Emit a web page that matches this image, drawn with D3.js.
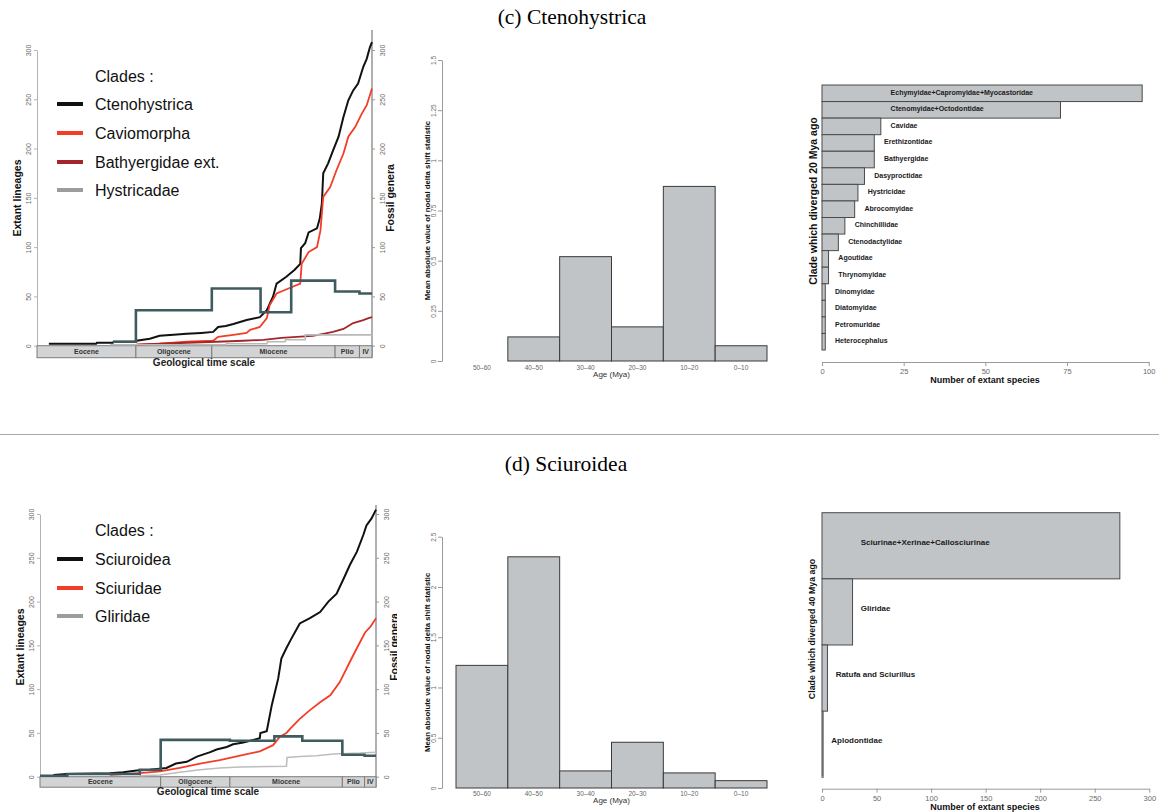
<!DOCTYPE html>
<html>
<head>
<meta charset="utf-8">
<script src="https://cdn.jsdelivr.net/npm/d3@7"></script>
<style>
  body { margin: 0; background: #fff; }
  svg { display: block; }
</style>
</head>
<body>
<svg id="fig" width="1159" height="812"></svg>
<script>
// ---------- Geological time scale (Mya) ----------
const epochNames  = ["Eocene", "Oligocene", "Miocene", "Plio", "IV"];
const epochStarts = [55.8, 33.9, 23.0, 5.3, 1.8];
const epochEnds   = [33.9, 23.0, 5.3, 1.8, 0];

// ---------- (c) Ctenohystrica: lineages through time [Mya, lineages] ----------
const ctenohystricaLTT = [[46.4,2],[39.6,2],[39.5,3],[37.2,3],[37.1,4],[33.9,4],[33.8,5],[31.9,7],[30.5,10],[28.5,11],[26.6,12],[24.5,13],[22.8,14],
  [22.1,19],[21.0,20],[19.9,22],[18.0,26],[16.1,29],[15.1,36],[14.2,50],[13.7,63],[12.3,70],[11.1,77],[10.3,83],
  [10.2,99],[9.6,104],[9.1,115],[7.9,119],[7.5,129],[7.2,144],[7.0,175],[6.3,185],[5.6,198],[4.8,212],[4.1,232],
  [3.4,249],[2.7,259],[2.0,266],[1.25,283],[0.76,291],[0.29,303],[0,308]];
const caviomorphaLTT = [[33.8,1],[30.5,2],[26.6,4],[22.8,5],[22.1,9],[19.9,11],[18.0,13],[17.5,16],[16.1,19],[15.1,28],
  [14.7,41],[13.7,53],[12.0,58],[10.3,63],[10.1,83],[9.1,95],[7.9,100],[7.4,117],[7.0,151],[6.0,161],[5.1,178],
  [4.1,195],[3.4,212],[2.4,222],[1.5,235],[0.76,244],[0,261]];
const bathyergidaeLTT = [[33.8,1],[30.5,2],[26.6,3],[22.3,4],[18.5,5],[15.6,6],[13.0,8],[10.8,9],[8.5,10],[7.0,12],
  [5.6,14],[4.1,17],[3.4,20],[2.7,23],[1.25,26],[0.5,28],[0,29]];
const hystricadaeLTT = [[37.6,1],[21.0,1],[20.9,2],[15.1,2],[15.0,4],[12.5,4],[12.4,6],[9.6,6],[9.55,11],[0,11]];

// fossil genera per stage
const ctenoStageStarts = [37.2, 33.9, 23.0, 16.0, 11.6, 5.3, 1.8];
const ctenoFossilGenera = [4, 36, 58, 34, 66, 55, 53];

// ---------- (d) Sciuroidea: lineages through time ----------
const sciuroideaLTT = [[50.8,2],[48.7,3],[41.9,4],[39.8,5],[37.7,7],[35.6,8],[33.0,10],[31.5,15],[29.8,17],[28.2,23],
  [26.1,28],[25.1,31],[23.5,34],[22.5,37],[20.9,39],[19.8,41],[18.3,44],[18.2,50],[17.2,52],[16.8,67],[16.4,82],
  [15.9,97],[15.4,112],[14.9,135],[14.1,147],[13.3,158],[12.0,175],[10.4,181],[8.8,188],[7.5,200],[6.2,209],
  [5.1,226],[4.1,242],[3.0,257],[2.0,276],[1.5,287],[0.7,295],[0,305]];
const sciuridaeLTT = [[41.9,2],[37.2,4],[34.0,6],[30.9,10],[27.7,15],[24.6,19],[21.4,24],[18.3,29],[16.2,36],[15.1,46],
  [14.1,50],[13.5,55],[12.0,66],[10.4,76],[8.8,85],[7.2,93],[5.7,108],[4.4,127],[3.0,147],[1.7,165],[0.9,171],[0,181]];
const gliridaeLTT = [[37.2,1],[34.0,2],[30.9,5],[27.7,8],[24.6,10],[21.4,11],[14.1,12],[14.0,22],[12.0,23],[9.4,24],
  [6.7,26],[2.5,27],[0,28]];

const sciuroStageStarts = [55.8, 48.6, 37.2, 33.9, 23.0, 16.0, 11.6, 5.3, 1.8];
const sciuroFossilGenera = [1, 3, 8, 42, 41, 46, 41, 25, 24];

// ---------- nodal delta shift statistic by age bin ----------
const ageBins = ["50\u201360", "40\u201350", "30\u201340", "20\u201330", "10\u201320", "0\u201310"];
const ctenoDeltaShift = [0, 0.12, 0.52, 0.17, 0.87, 0.076];
const sciuroDeltaShift = [1.22, 2.30, 0.17, 0.455, 0.15, 0.073];

// ---------- extant species per clade ----------
const ctenoClades = ["Echymyidae+Capromyidae+Myocastoridae", "Ctenomyidae+Octodontidae", "Cavidae", "Erethizontidae",
  "Bathyergidae", "Dasyproctidae", "Hystricidae", "Abrocomyidae", "Chinchillidae", "Ctenodactylidae", "Agoutidae",
  "Thrynomyidae", "Dinomyidae", "Diatomyidae", "Petromuridae", "Heterocephalus"];
const ctenoSpecies = [98, 73, 18, 16, 16, 13, 11, 10, 7, 5, 2, 2, 1, 1, 1, 1];
const sciuroClades = ["Sciurinae+Xerinae+Callosciurinae", "Gliridae", "Ratufa and Sciurillus", "Aplodontidae"];
const sciuroSpecies = [273, 28, 5, 1];

// ---------- drawing ----------
const SANS = '"Liberation Sans", Arial, Helvetica, sans-serif';
const SERIF = '"Liberation Serif", "Times New Roman", serif';
const svg = d3.select("#fig");
svg.append("rect").attr("width", 1159).attr("height", 812).attr("fill", "#fff");

svg.append("text").attr("x", 572).attr("y", 24).attr("text-anchor", "middle")
  .style("font-family", SERIF).style("font-size", "21.5px").text("(c) Ctenohystrica");
svg.append("text").attr("x", 566).attr("y", 471).attr("text-anchor", "middle")
  .style("font-family", SERIF).style("font-size", "21.5px").text("(d) Sciuroidea");
svg.append("line").attr("x1", 0).attr("x2", 1159).attr("y1", 434.5).attr("y2", 434.5)
  .attr("stroke", "#a9a9a9").attr("stroke-width", 1);

function styleAxis(ax, size, col) {
  ax.attr("font-family", SANS).attr("font-size", size);
  ax.select(".domain").attr("stroke", col || "#9a9a9a");
  ax.selectAll(".tick line").attr("stroke", col || "#9a9a9a");
  ax.selectAll(".tick text").attr("fill", "#6a6a6a");
}
function rotTicks(ax, dx) {
  ax.selectAll(".tick text").attr("x", null).attr("y", null).attr("dy", null)
    .attr("text-anchor", "middle").attr("transform", `translate(${dx},0) rotate(-90)`);
}
function rotLabel(g, x, y, txt, size, weight) {
  return g.append("text").attr("transform", `translate(${x},${y}) rotate(-90)`).attr("text-anchor", "middle")
    .style("font-family", SANS).style("font-size", size + "px").style("font-weight", weight || "bold")
    .attr("fill", "#111").text(txt);
}

function drawLTT(p) {
  const g = svg.append("g");
  const x = d3.scaleLinear().domain([-p.tMax, 0]).range([p.left, p.right]).clamp(true);
  const y = d3.scaleLinear().domain([0, 300]).range([p.base, p.y300]);
  const ticks = d3.range(0, 301, 50);

  // right frame edge
  g.append("line").attr("x1", p.right).attr("x2", p.right).attr("y1", p.top).attr("y2", p.base + p.barH)
    .attr("stroke", "#9c9c9c").attr("stroke-width", 1.6);

  const axL = g.append("g").attr("transform", `translate(${p.left},0)`)
    .call(d3.axisLeft(y).tickValues(ticks).tickSize(3).tickSizeOuter(0));
  styleAxis(axL, 7, "#b4b4b4"); rotTicks(axL, -6);
  const axR = g.append("g").attr("transform", `translate(${p.right},0)`)
    .call(d3.axisRight(y).tickValues(ticks).tickSize(3).tickSizeOuter(0));
  styleAxis(axR, 7); rotTicks(axR, 12.5); axR.select(".domain").remove();

  // geological time scale bar
  epochNames.forEach((name, i) => {
    const x0 = x(-epochStarts[i]), x1 = x(-epochEnds[i]);
    g.append("rect").attr("x", x0).attr("y", p.base).attr("width", x1 - x0).attr("height", p.barH)
      .attr("fill", "#d2d3d4").attr("stroke", "#7d7d7d").attr("stroke-width", 1);
    g.append("text").attr("x", (x0 + x1) / 2).attr("y", p.base + p.barH / 2 + 2.5).attr("text-anchor", "middle")
      .style("font-family", SANS).style("font-size", "7px").style("font-weight", "bold").attr("fill", "#333").text(name);
  });

  // lineage counts through time
  const ltt = d3.line().x(d => x(-d[0])).y(d => y(d[1]));
  p.series.forEach(s => {
    g.append("path").datum(s.data).attr("d", ltt).attr("fill", "none")
      .attr("stroke", s.color).attr("stroke-width", s.width).attr("stroke-linejoin", "miter");
  });

  // fossil genera per stage
  const step = d3.line().curve(d3.curveStepAfter).x(d => x(-d[0])).y(d => y(d[1]));
  const fossilPts = p.stageStarts.map((t, i) => [t, p.fossil[i]]);
  fossilPts.push([0, p.fossil[p.fossil.length - 1]]);
  g.append("path").datum(fossilPts).attr("d", step).attr("fill", "none")
    .attr("stroke", "#3f5b5f").attr("stroke-width", 2.6);

  // legend
  g.append("text").attr("x", 95).attr("y", p.legendTitleY + 5.5).style("font-family", SANS)
    .style("font-size", "16px").attr("fill", "#111").text("Clades :");
  p.series.forEach((s, i) => {
    const ly = p.legendY[i];
    g.append("line").attr("x1", 57).attr("x2", 83).attr("y1", ly).attr("y2", ly)
      .attr("stroke", s.legendColor || s.color).attr("stroke-width", 4);
    g.append("text").attr("x", 95).attr("y", ly + 5.5).style("font-family", SANS)
      .style("font-size", "16px").attr("fill", "#111").text(s.name);
  });

  rotLabel(g, p.left - 16, p.midY, "Extant lineages", 10.5);
  const fg = rotLabel(g, p.right + 22, p.midY, "Fossil genera", 10.5);
  if (p.clipRight) {
    const id = "clipFG" + Math.round(p.base);
    svg.append("clipPath").attr("id", id).append("rect").attr("x", 0).attr("y", 0)
      .attr("width", p.clipRight).attr("height", 812);
    const wrap = g.append("g").attr("clip-path", `url(#${id})`);
    wrap.node().appendChild(fg.node());
  }
  g.append("text").attr("x", p.gtsX).attr("y", p.gtsY).attr("text-anchor", "middle").style("font-family", SANS)
    .style("font-size", "10px").style("font-weight", "bold").attr("fill", "#222").text("Geological time scale");
}

drawLTT({
  left: 37, right: 372, tMax: 48.1, base: 345.7, y300: 50, top: 30, barH: 12, midY: 198,
  stageStarts: ctenoStageStarts, fossil: ctenoFossilGenera,
  legendTitleY: 76, legendY: [104, 133, 162, 190], gtsX: 204, gtsY: 366,
  series: [
    { name: "Ctenohystrica", data: ctenohystricaLTT, color: "#111", width: 2 },
    { name: "Caviomorpha", data: caviomorphaLTT, color: "#f43d27", width: 1.8 },
    { name: "Bathyergidae ext.", data: bathyergidaeLTT, color: "#a3272a", width: 1.8 },
    { name: "Hystricadae", data: hystricadaeLTT, color: "#b9b9b9", legendColor: "#9c9c9c", width: 1.6 }
  ]
});
drawLTT({
  left: 40, right: 376, tMax: 52.9, base: 776.7, y300: 514, top: 505, barH: 10.5, midY: 647,
  stageStarts: sciuroStageStarts, fossil: sciuroFossilGenera, clipRight: 397,
  legendTitleY: 530, legendY: [559, 588, 616], gtsX: 208, gtsY: 795,
  series: [
    { name: "Sciuroidea", data: sciuroideaLTT, color: "#111", width: 2 },
    { name: "Sciuridae", data: sciuridaeLTT, color: "#f43d27", width: 1.8 },
    { name: "Gliridae", data: gliridaeLTT, color: "#bdbdbd", legendColor: "#9c9c9c", width: 1.6 }
  ]
});

function drawHist(p) {
  const g = svg.append("g");
  const x = d3.scaleBand().domain(ageBins).range([456, 767]).paddingInner(0).paddingOuter(0);
  const y = d3.scaleLinear().domain([0, p.max]).range([p.base, p.top]);
  g.selectAll("rect.bar").data(p.values).join("rect").attr("class", "bar")
    .attr("x", (d, i) => x(ageBins[i])).attr("width", x.bandwidth())
    .attr("y", d => y(d)).attr("height", d => p.base - y(d))
    .attr("fill", "#c1c4c6").attr("stroke", "#3a3a3a").attr("stroke-width", 1);
  const ax = g.append("g").attr("transform", "translate(442,0)")
    .call(d3.axisLeft(y).tickValues(p.ticks).tickSize(4).tickSizeOuter(0).tickFormat(d3.format("~g")));
  styleAxis(ax, 6.5); rotTicks(ax, -6.5);
  ageBins.forEach(b => {
    g.append("text").attr("x", x(b) + x.bandwidth() / 2).attr("y", p.tickY).attr("text-anchor", "middle")
      .style("font-family", SANS).style("font-size", "6.5px").attr("fill", "#666").text(b);
  });
  g.append("text").attr("x", 611.5).attr("y", p.ageY).attr("text-anchor", "middle")
    .style("font-family", SANS).style("font-size", "8px").attr("fill", "#333").text("Age (Mya)");
  rotLabel(g, 430, (p.base + p.top) / 2, "Mean absolute value of nodal delta shift statistic", 7.8);
}
drawHist({ values: ctenoDeltaShift, max: 1.5, base: 361, top: 60,
  ticks: [0, 0.25, 0.5, 0.75, 1, 1.25, 1.5], tickY: 369.5, ageY: 377 });
drawHist({ values: sciuroDeltaShift, max: 2.5, base: 788, top: 536.7,
  ticks: [0, 0.5, 1, 1.5, 2, 2.5], tickY: 795.5, ageY: 803 });

function drawClades(p) {
  const g = svg.append("g");
  const x = d3.scaleLinear().domain([0, p.max]).range([822, p.right]);
  const y = d3.scaleBand().domain(p.names).range([p.top, p.bottom]).paddingInner(0).paddingOuter(0);
  g.selectAll("rect.bar").data(p.values).join("rect").attr("class", "bar")
    .attr("x", x(0)).attr("y", (d, i) => y(p.names[i])).attr("width", d => x(d) - x(0))
    .attr("height", y.bandwidth()).attr("fill", "#c1c4c6").attr("stroke", "#4a4a4a").attr("stroke-width", 1);
  p.names.forEach((n, i) => {
    g.append("text").attr("x", x(Math.min(p.values[i], p.cap) + p.offset))
      .attr("y", y(n) + y.bandwidth() / 2 - p.lift).attr("dominant-baseline", "central")
      .style("font-family", SANS).style("font-size", p.labelSize + "px").style("font-weight", "bold")
      .attr("fill", "#1a1a1a").text(n);
  });
  const ax = g.append("g").attr("transform", `translate(0,${p.axisY})`)
    .call(d3.axisBottom(x).tickValues(p.ticks).tickSize(4).tickSizeOuter(0).tickPadding(3));
  styleAxis(ax, 7.5);
  g.append("text").attr("x", 985).attr("y", p.xLabY).attr("text-anchor", "middle")
    .style("font-family", SANS).style("font-size", "9px").style("font-weight", "bold").attr("fill", "#111")
    .text("Number of extant species");
  rotLabel(g, p.yLabX, p.yLabMid, p.yLabel, p.yLabSize);
}
drawClades({ names: ctenoClades, values: ctenoSpecies, max: 100, right: 1148.7, top: 85, bottom: 350,
  cap: 18, offset: 3, lift: 1, labelSize: 7, axisY: 362, ticks: [0, 25, 50, 75, 100], xLabY: 383,
  yLabX: 817, yLabMid: 201, yLabel: "Clade which diverged 20 Mya ago", yLabSize: 10.5 });
drawClades({ names: sciuroClades, values: sciuroSpecies, max: 300, right: 1149.3, top: 512.7, bottom: 777.3,
  cap: 28, offset: 7.5, lift: 3.5, labelSize: 8, axisY: 788.7, ticks: d3.range(0, 301, 50), xLabY: 810,
  yLabX: 815, yLabMid: 629, yLabel: "Clade which diverged 40 Mya ago", yLabSize: 8.8 });
</script>
</body>
</html>
